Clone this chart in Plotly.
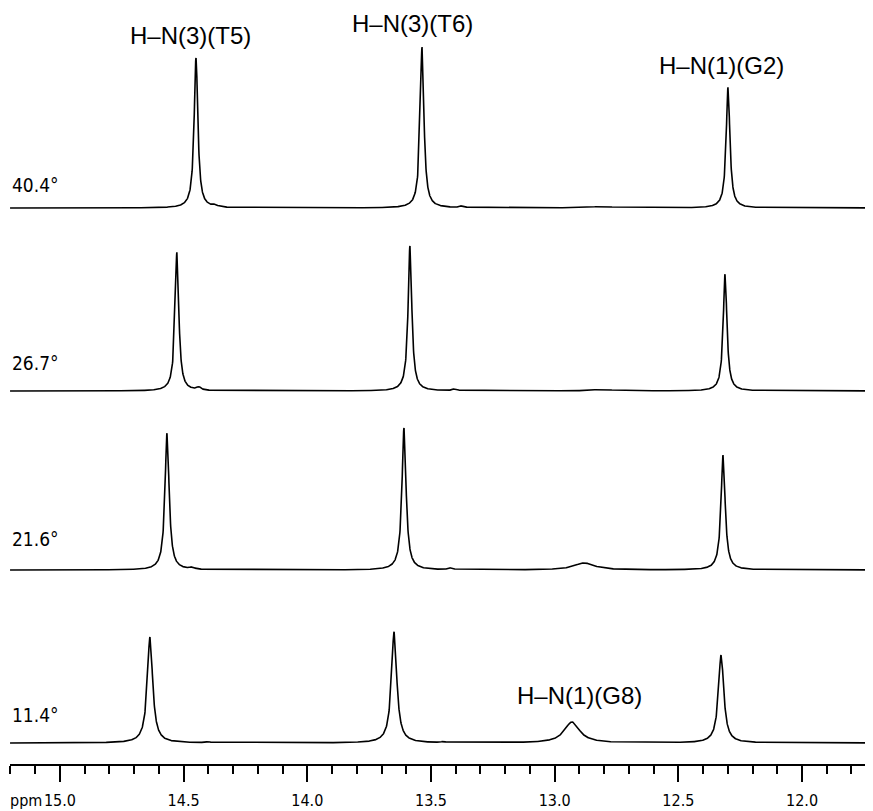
import numpy as np
import plotly.graph_objects as go

# ---- data ----
temperatures = ["40.4°", "26.7°", "21.6°", "11.4°"]

# main imino peaks: T5, T6, G8, G2 (ppm)
t5_ppm = [14.450, 14.527, 14.567, 14.636]
t6_ppm = [13.536, 13.585, 13.609, 13.649]
g8_ppm = [12.810, 12.810, 12.881, 12.930]
g2_ppm = [12.299, 12.311, 12.319, 12.327]

t5_height = [150, 139, 137, 106]
t6_height = [161, 145, 142, 111]
g8_height = [1.5, 1.5, 7, 21]
g2_height = [121, 117, 115, 88]

sharp_fwhm = [0.018, 0.018, 0.020, 0.026]
g8_fwhm = [0.10, 0.10, 0.10, 0.075]

# small satellite bumps (ppm, height)
bump1_ppm = [14.373, 14.438, 14.466, 14.40]
bump1_h = [2, 3, 2, 1]
bump2_ppm = [13.374, 13.403, 13.419, 13.45]
bump2_h = [2, 2, 2, 1]

# vertical stacking of the spectra (intensity units)
stack_offset = [556, 373, 194, 21]

peak_labels = ["H–N(3)(T5)", "H–N(3)(T6)", "H–N(1)(G2)", "H–N(1)(G8)"]
label_ppm = [14.474, 13.573, 12.327, 12.901]
label_y = [729, 741, 699, 69]
temp_label_y = [579, 401, 225, 49]

tick_vals = [15.0, 14.5, 14.0, 13.5, 13.0, 12.5, 12.0]
x_range = [15.202, 11.713]

NARROW = "DejaVu Sans Condensed, Liberation Sans Narrow, Arial Narrow, DejaVu Sans, sans-serif"


def lorentz(x, x0, h, w):
    return h / (1.0 + ((x - x0) / (w / 2.0)) ** 2)


ppm = np.arange(x_range[1], x_range[0], 0.0008)

fig = go.Figure()
for i, t in enumerate(temperatures):
    y = np.zeros_like(ppm)
    y += lorentz(ppm, t5_ppm[i], t5_height[i], sharp_fwhm[i])
    y += lorentz(ppm, t6_ppm[i], t6_height[i], sharp_fwhm[i])
    y += lorentz(ppm, g2_ppm[i], g2_height[i], sharp_fwhm[i])
    y += lorentz(ppm, g8_ppm[i], g8_height[i], g8_fwhm[i])
    y += lorentz(ppm, bump1_ppm[i], bump1_h[i], 0.02)
    y += lorentz(ppm, bump2_ppm[i], bump2_h[i], 0.02)
    fig.add_trace(go.Scatter(
        x=ppm, y=y + stack_offset[i], mode="lines",
        line=dict(color="black", width=1.6), name=t,
        hoverinfo="skip", showlegend=False))
    fig.add_annotation(
        x=0, xref="paper", y=temp_label_y[i], yref="y",
        text=t, showarrow=False, xanchor="left", yanchor="middle",
        font=dict(family=NARROW, size=19, color="black"))

for lab, lx, ly in zip(peak_labels, label_ppm, label_y):
    fig.add_annotation(
        x=lx, y=ly, xref="x", yref="y", text=lab, showarrow=False,
        xanchor="center", yanchor="middle",
        font=dict(family="Liberation Sans, Arial, sans-serif", size=24, color="black"))

# "ppm" unit label left of the first tick label (below the plot area)
fig.add_annotation(
    x=0.0394, y=-36 / 756, xref="paper", yref="paper", text="ppm", showarrow=False,
    xanchor="right", yanchor="middle",
    font=dict(family=NARROW, size=16, color="black"))

fig.update_xaxes(
    range=x_range, showgrid=False, zeroline=False,
    showline=True, linecolor="black", linewidth=2,
    ticks="outside", ticklen=16, tickwidth=1.5, tickcolor="black",
    tickvals=tick_vals, ticktext=[f"{v:.1f}" for v in tick_vals],
    ticklabelstandoff=5,
    tickfont=dict(family=NARROW, size=16, color="black"),
    minor=dict(ticks="outside", ticklen=8, tickwidth=1.5, tickcolor="black",
               dtick=0.1, tick0=15.0, showgrid=False),
)
fig.update_yaxes(range=[0, 756], visible=False, showgrid=False, zeroline=False)

# the page body adds an 8 px margin; size the figure so the plot area
# spans the same page pixels as the reference
fig.update_layout(
    width=865, height=803,
    margin=dict(l=2, r=0, t=0, b=47),
    plot_bgcolor="white", paper_bgcolor="white",
    showlegend=False,
)

fig.write_html("out.html")
